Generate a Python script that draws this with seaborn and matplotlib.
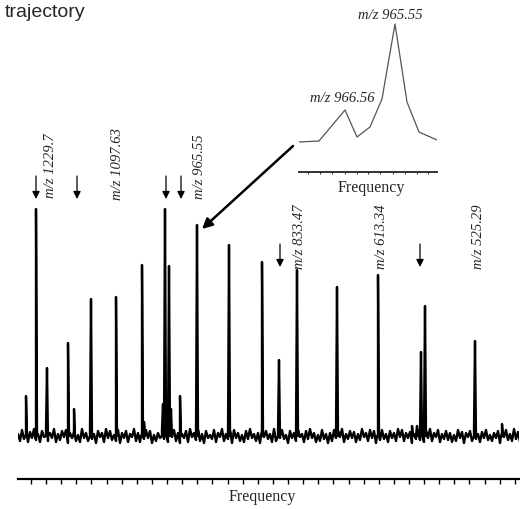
import numpy as np
import pandas as pd
import matplotlib
matplotlib.use("Agg")
import matplotlib.pyplot as plt
import seaborn as sns

# ---------------- data ----------------
# main spectrum peaks (frequency position, intensity)
peak_freq = [8, 18, 29, 50, 56, 73, 98, 124, 126, 145, 147, 151, 153, 162,
             179, 211, 244, 261, 279, 319, 360, 394, 399, 403, 407, 457, 484]
peak_int = [40, 227, 68, 93, 27, 137, 139, 171, 14, 32, 227, 170, 27, 40,
            211, 191, 174, 76, 166, 149, 161, 10, 10, 84, 130, 95, 12]

# baseline noise (one value every 2 frequency units)
baseline_noise = [
    2, -5, 6, -3, 1, -6, 4, -2, 7, -4, 2, -6,
    5, -1, 6, -5, 3, -2, 7, -6, 2, -4, 5, -1,
    6, -7, 3, -2, 5, -5, 1, -6, 7, -2, 3, -5,
    6, -3, 2, -7, 5, -1, 3, -6, 7, -2, 5, -4,
    1, -5, 6, -7, 3, -2, 5, -6, 2, -1, 7, -5,
    3, -6, 2, -3, 6, -2, 5, -7, 1, -5, 3, -2,
    7, -3, 2, -6, 5, -1, 6, -5, 3, -7, 2, -2,
    5, -6, 7, -1, 3, -4, 6, -5, 2, -7, 5, -2,
    1, -3, 6, -6, 3, -1, 7, -5, 2, -3, 5, -7,
    6, -2, 3, -5, 1, -6, 5, -3, 7, -2, 2, -5,
    3, -7, 6, -1, 5, -3, 2, -6, 7, -5, 3, -2,
    6, -3, 1, -7, 5, -2, 3, -5, 6, -1, 2, -6,
    5, -3, 7, -2, 3, -6, 1, -5, 6, -3, 2, -7,
    3, -5, 6, -2, 5, -1, 7, -6, 2, -3, 5, -2,
    4, -6, 2, -4, 7, -1, 3, -5, 6, -2, 5, -7,
    1, -4, 6, -3, 2, -6, 5, -2, 3, -5, 7, -1,
    6, -5, 3, -2, 4, -7, 2, -3, 6, -4, 1, -6,
    5, -2, 7, -5, 3, -1, 6, -6, 2, -3, 5, -4,
    3, -6, 1, -5, 6, -2, 4, -7, 3, -1, 5, -5,
    7, -3, 2, -6, 4, -2, 6, -4, 1, -5, 3, -2,
    5, -7, 3, -1, 6, -4, 2, -5, 7, -3, 4, -6]

# labelled peaks
label_text = ["m/z 1229.7", "m/z 1097.63", "m/z 965.55",
              "m/z 833.47", "m/z 613.34", "m/z 525.29"]
label_freq = [33, 100, 182, 282, 364, 461]
label_base = [239, 237, 238, 168, 168, 168]

# down arrows marking peaks
arrow_freq = [18, 59, 148, 163, 262, 402]
arrow_top = [260, 260, 260, 260, 192, 192]
arrow_tip = [237, 237, 237, 237, 169, 169]

# inset: zoom on m/z 965.55 / 966.56
inset_freq = [0, 20, 46, 58, 71, 83, 96, 108, 120, 138]
inset_int = [30, 31, 62, 35, 45, 73, 148, 70, 40, 32]

# ---------------- build the trace ----------------
base_x = [2 * i for i in range(len(baseline_noise))]
xs = list(base_x)
ys = list(baseline_noise)
for f, h in zip(peak_freq, peak_int):
    xs += [f - 1, f, f + 1]
    ys += [0, h, 0]
spec = pd.DataFrame({"freq": xs, "intensity": ys})
inset_df = pd.DataFrame({"freq": inset_freq, "intensity": inset_int})

# ---------------- figure ----------------
sns.set_style("white")
plt.rcParams["font.family"] = ["Liberation Serif", "DejaVu Serif"]

W, H = 520, 510
fig = plt.figure(figsize=(W / 100, H / 100), dpi=100)


def px_axes(l, t, r, b):
    return fig.add_axes([l / W, 1 - b / H, (r - l) / W, (b - t) / H])


ax = px_axes(18, 100, 519, 480)
ax.patch.set_alpha(0)
sns.lineplot(data=spec, x="freq", y="intensity", ax=ax, color="black",
             lw=1.7, estimator=None, sort=True)
ax.set_xlim(0, 501)
ax.set_ylim(-43, 337)
ax.set_xticks([13 + 15.12 * k for k in range(33)])
ax.set_xticklabels([])
ax.set_yticks([])
ax.set_xlabel("")
ax.set_ylabel("")
ax.tick_params(axis="x", direction="out", length=3.5, width=1, bottom=True,
               color="black")
for s in ["left", "right", "top"]:
    ax.spines[s].set_visible(False)
ax.spines["bottom"].set_linewidth(1.6)
ax.spines["bottom"].set_color("black")

for t, f, b in zip(label_text, label_freq, label_base):
    ax.text(f, b, t, rotation=90, rotation_mode="anchor", ha="left",
            va="center", style="italic", fontsize=10.5, clip_on=False)

for f, t0, t1 in zip(arrow_freq, arrow_top, arrow_tip):
    ax.annotate("", xy=(f, t1), xytext=(f, t0),
                arrowprops=dict(arrowstyle="-|>", color="black", lw=0.9,
                                mutation_scale=11, shrinkA=0, shrinkB=0))

ax.annotate("", xy=(184, 207), xytext=(275, 290),
            arrowprops=dict(arrowstyle="-|>", color="black", lw=1.8,
                            mutation_scale=15, shrinkA=0, shrinkB=0),
            annotation_clip=False)

fig.text(262 / W, 1 - 497 / H, "Frequency", ha="center", va="center",
         fontsize=11.5)

# inset
axi = px_axes(299, 20, 437, 173)
axi.patch.set_alpha(0)
sns.lineplot(data=inset_df, x="freq", y="intensity", ax=axi, color="#555555",
             lw=0.9, estimator=None, sort=True)
axi.set_xlim(0, 138)
axi.set_ylim(0, 153)
axi.set_xticks([9, 21, 33, 46, 58, 69, 81, 94, 106, 118, 129])
axi.set_xticklabels([])
axi.set_yticks([])
axi.set_xlabel("")
axi.set_ylabel("")
axi.tick_params(axis="x", direction="out", length=1.5, width=0.8,
                bottom=True, color="#333333")
for s in ["left", "right", "top"]:
    axi.spines[s].set_visible(False)
axi.spines["bottom"].set_linewidth(1.3)
axi.spines["bottom"].set_color("#222222")
axi.text(91, 158, "m/z 965.55", ha="center", va="center", style="italic",
         fontsize=10.5, clip_on=False)
axi.text(43, 75, "m/z 966.56", ha="center", va="center", style="italic",
         fontsize=10.5, clip_on=False)
fig.text(371 / W, 1 - 188 / H, "Frequency", ha="center", va="center",
         fontsize=11.5)

fig.text(5 / W, 1 - 4 / H, "trajectory", ha="left", va="top",
         family=["Liberation Sans", "DejaVu Sans"], fontsize=14)

fig.savefig("out.png", dpi=100)
